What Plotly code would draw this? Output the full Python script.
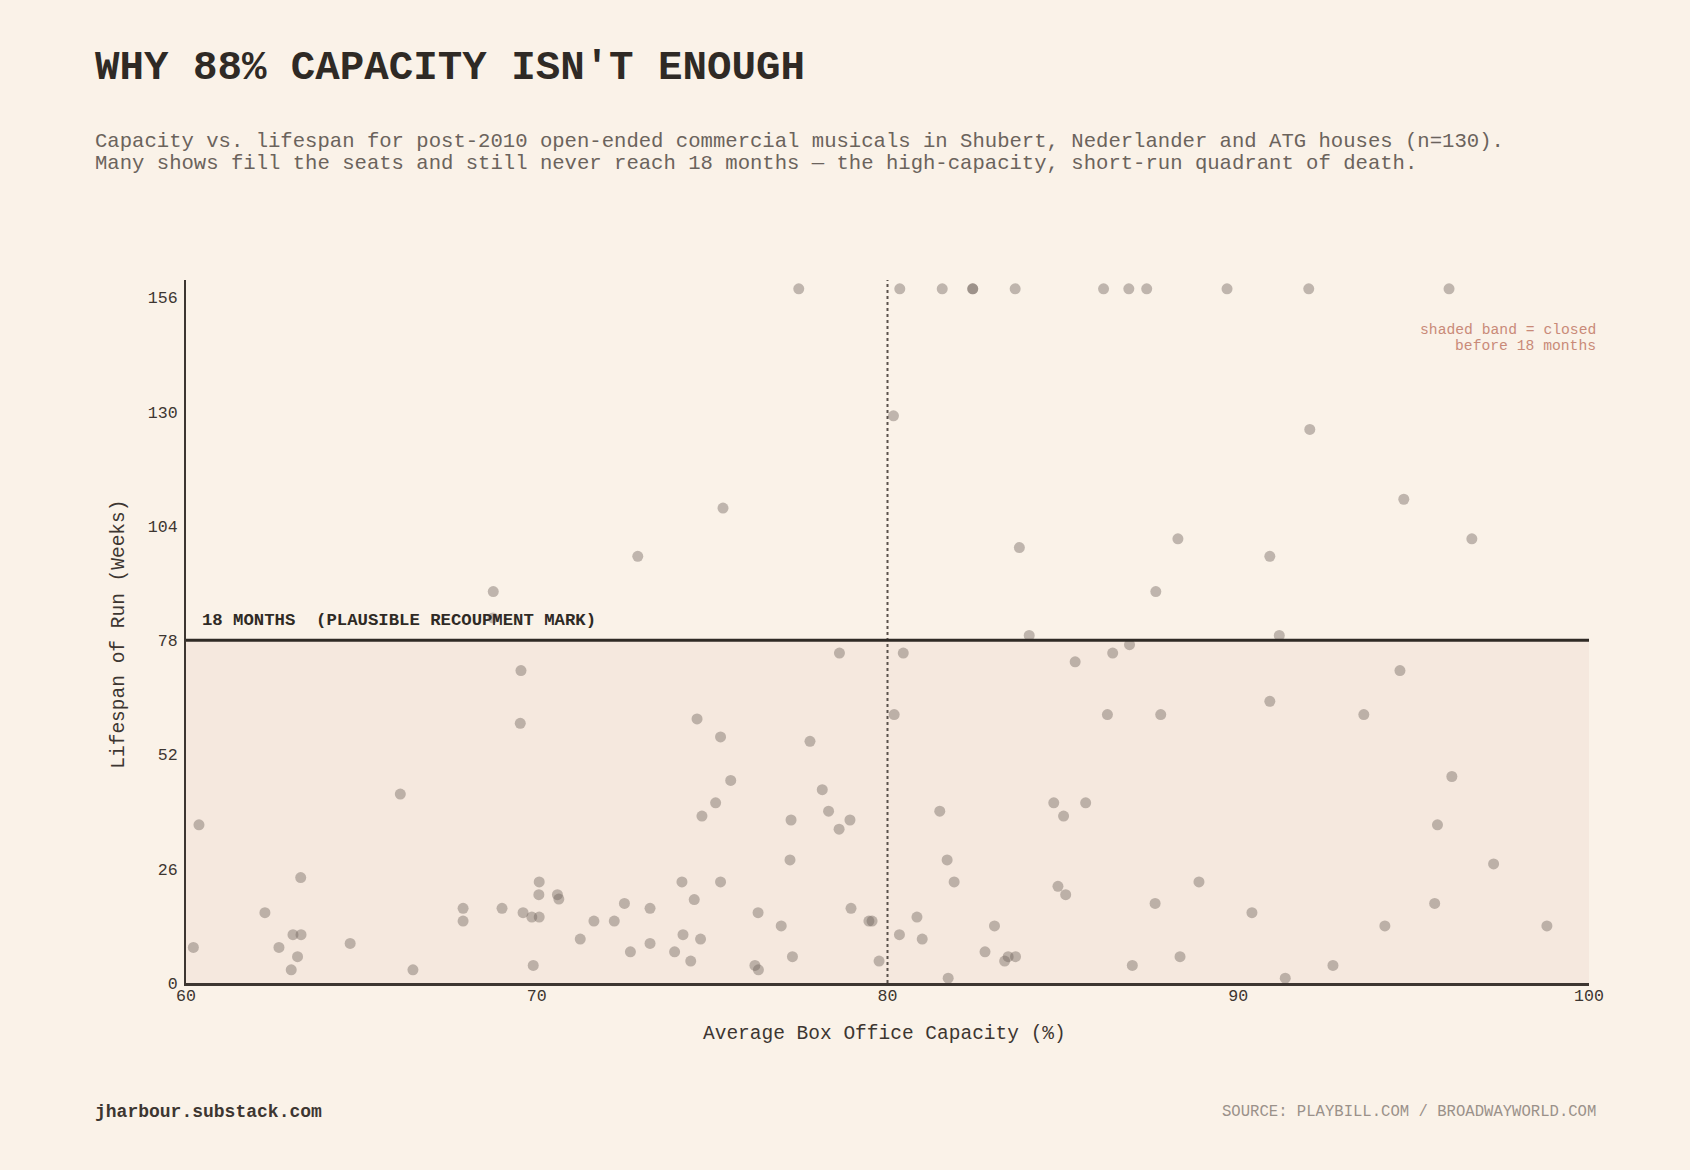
import plotly.graph_objects as go

# ---- data ----
capacity_pct = [
    77.47, 80.35, 81.56, 82.43, 82.43, 83.64, 86.16, 86.88, 87.39, 89.68, 92.01, 96.01,
    80.17, 92.04, 75.31, 94.72, 72.88, 88.28, 96.66, 83.76, 90.90, 68.76, 87.65, 68.75, 84.04, 91.17,
    86.90, 78.63, 80.45, 86.42, 85.35, 69.55, 94.61, 90.90, 74.57, 80.19, 86.27, 87.79, 93.58, 69.53, 75.24, 77.79,
    75.53, 96.09, 66.11, 78.14, 75.10, 84.74, 85.65, 74.71, 78.32, 81.49, 85.02, 60.37, 77.25, 78.93, 95.68, 78.62,
    77.22, 81.70, 97.28, 63.27,
    70.07, 74.14, 75.24, 81.90, 88.88,
    84.86,
    70.06, 70.59, 70.63, 74.49, 85.08,
    72.50, 87.63, 95.60,
    67.90, 69.01, 73.23, 78.96,
    62.25, 69.61, 76.31, 90.39,
    69.86, 70.07, 80.84,
    67.90, 71.63, 72.21, 79.47, 79.56,
    76.97, 83.05, 94.18, 98.80,
    63.05, 63.28, 74.17, 80.34,
    71.24, 74.67, 80.99,
    64.68, 73.23,
    60.21, 62.65,
    72.67, 73.93, 82.78,
    63.18, 77.29, 83.44, 83.65, 88.34,
    74.39, 79.76, 83.34,
    69.90, 76.22, 86.98, 92.70,
    63.00, 66.47, 76.32,
    81.73, 91.34,
]
lifespan_weeks = [
    158, 158, 158, 158, 158, 158, 158, 158, 158, 158, 158, 158,
    129.1, 126.0, 108.1, 110.1, 97.1, 101.1, 101.1, 99.1, 97.1, 89.1, 89.1, 83.1, 79.1, 79.1,
    77.0, 75.1, 75.1, 75.1, 73.1, 71.1, 71.1, 64.1, 60.1, 61.1, 61.1, 61.1, 61.1, 59.1, 56.0, 55.0,
    46.1, 47.0, 43.0, 44.0, 41.0, 41.0, 41.0, 38.0, 39.1, 39.1, 38.0, 36.0, 37.1, 37.1, 36.0, 35.0,
    28.0, 28.0, 27.1, 24.0,
    23.0, 23.0, 23.0, 23.0, 23.0,
    22.0,
    20.1, 20.1, 19.1, 19.0, 20.1,
    18.1, 18.1, 18.1,
    17.0, 17.0, 17.0, 17.0,
    16.0, 16.0, 16.0, 16.0,
    15.0, 15.0, 15.0,
    14.1, 14.1, 14.1, 14.1, 14.1,
    13.0, 13.0, 13.0, 13.0,
    11.0, 11.0, 11.0, 11.0,
    10.0, 10.0, 10.0,
    9.0, 9.0,
    8.1, 8.1,
    7.1, 7.1, 7.1,
    6.0, 6.0, 6.0, 6.0, 6.0,
    5.0, 5.0, 5.0,
    4.0, 4.0, 4.0, 4.0,
    3.0, 3.0, 3.0,
    1.1, 1.1,
]
y_tick_vals = [0, 26, 52, 78, 104, 130, 156]
x_tick_vals = [60, 70, 80, 90, 100]
recoup_weeks = 78
capacity_ref = 80

FONT = "Liberation Mono"
BG = "#faf2e8"
INK = "#2f2a25"
INK2 = "#3d3631"

fig = go.Figure()
fig.add_trace(go.Scatter(
    x=capacity_pct, y=lifespan_weeks, mode="markers",
    marker=dict(size=11, color="rgba(110,98,90,0.42)", line=dict(width=0)),
    hoverinfo="x+y", showlegend=False,
))

fig.add_shape(type="rect", xref="x", yref="y", x0=60, x1=100, y0=0, y1=recoup_weeks,
              fillcolor="#f5e8de", line=dict(width=0), layer="below")
fig.add_shape(type="line", xref="x", yref="y", x0=capacity_ref, x1=capacity_ref, y0=0, y1=160,
              line=dict(color="#5a514b", width=2, dash="dot"), layer="above")
fig.add_shape(type="line", xref="x", yref="y", x0=60, x1=100, y0=recoup_weeks, y1=recoup_weeks,
              line=dict(color=INK, width=3), layer="above")

ann = []
ann.append(dict(text="<b>WHY 88% CAPACITY ISN'T ENOUGH</b>", xref="paper", yref="paper",
                x=-0.0663, y=1.3016, xanchor="left", yanchor="middle", showarrow=False,
                font=dict(family=FONT, size=40.8, color=INK)))
ann.append(dict(text="Capacity vs. lifespan for post-2010 open-ended commercial musicals in Shubert, Nederlander and ATG houses (n=130).",
                xref="paper", yref="paper", x=-0.0663, y=1.1977, xanchor="left", yanchor="middle",
                showarrow=False, font=dict(family=FONT, size=20.6, color="#6b635c")))
ann.append(dict(text="Many shows fill the seats and still never reach 18 months \u2014 the high-capacity, short-run quadrant of death.",
                xref="paper", yref="paper", x=-0.0663, y=1.1664, xanchor="left", yanchor="middle",
                showarrow=False, font=dict(family=FONT, size=20.6, color="#6b635c")))
ann.append(dict(text="<b>18 MONTHS  (PLAUSIBLE RECOUPMENT MARK)</b>", xref="x", yref="y",
                x=60.4, y=82.5, xanchor="left", yanchor="middle", showarrow=False,
                font=dict(family=FONT, size=17.3, color=INK)))
ann.append(dict(text="shaded band = closed", xref="paper", yref="paper", x=1.0065, y=0.9289,
                xanchor="right", yanchor="middle", showarrow=False,
                font=dict(family=FONT, size=14.7, color="#c98a78")))
ann.append(dict(text="before 18 months", xref="paper", yref="paper", x=1.0065, y=0.9061,
                xanchor="right", yanchor="middle", showarrow=False,
                font=dict(family=FONT, size=14.7, color="#c98a78")))
ann.append(dict(text="Average Box Office Capacity (%)", xref="paper", yref="paper", x=0.498, y=-0.0725,
                xanchor="center", yanchor="middle", showarrow=False,
                font=dict(family=FONT, size=19.5, color=INK2)))
ann.append(dict(text="Lifespan of Run (Weeks)", xref="paper", yref="paper", x=-0.048, y=0.4964,
                xanchor="center", yanchor="middle", showarrow=False, textangle=-90,
                font=dict(family=FONT, size=19.5, color=INK2)))
ann.append(dict(text="<b>jharbour.substack.com</b>", xref="paper", yref="paper", x=-0.0663, y=-0.1835,
                xanchor="left", yanchor="middle", showarrow=False,
                font=dict(family=FONT, size=18, color=INK2)))
ann.append(dict(text="SOURCE: PLAYBILL.COM / BROADWAYWORLD.COM", xref="paper", yref="paper", x=1.0065, y=-0.1835,
                xanchor="right", yanchor="middle", showarrow=False,
                font=dict(family=FONT, size=15.6, color="#9a918a")))

fig.update_layout(
    width=1690, height=1170,
    margin=dict(l=186, r=101, t=280, b=187, autoexpand=False),
    paper_bgcolor=BG, plot_bgcolor=BG,
    annotations=ann,
    showlegend=False,
)
fig.update_xaxes(range=[60, 100], tickvals=x_tick_vals, ticktext=[str(v) for v in x_tick_vals],
                 showgrid=False, zeroline=False, showline=True, linecolor=INK2, linewidth=3,
                 ticks="", ticklabelstandoff=-5, tickfont=dict(family=FONT, size=16.6, color=INK2))
fig.update_yaxes(range=[0, 160], tickvals=y_tick_vals, ticktext=[str(v) for v in y_tick_vals],
                 showgrid=False, zeroline=False, showline=True, linecolor=INK2, linewidth=2,
                 ticks="", ticklabelstandoff=3, tickfont=dict(family=FONT, size=16.6, color=INK2))

fig.write_html("out.html", config={"displayModeBar": False},
               post_script="document.body.style.margin='0';document.body.style.background='%s';" % BG)
